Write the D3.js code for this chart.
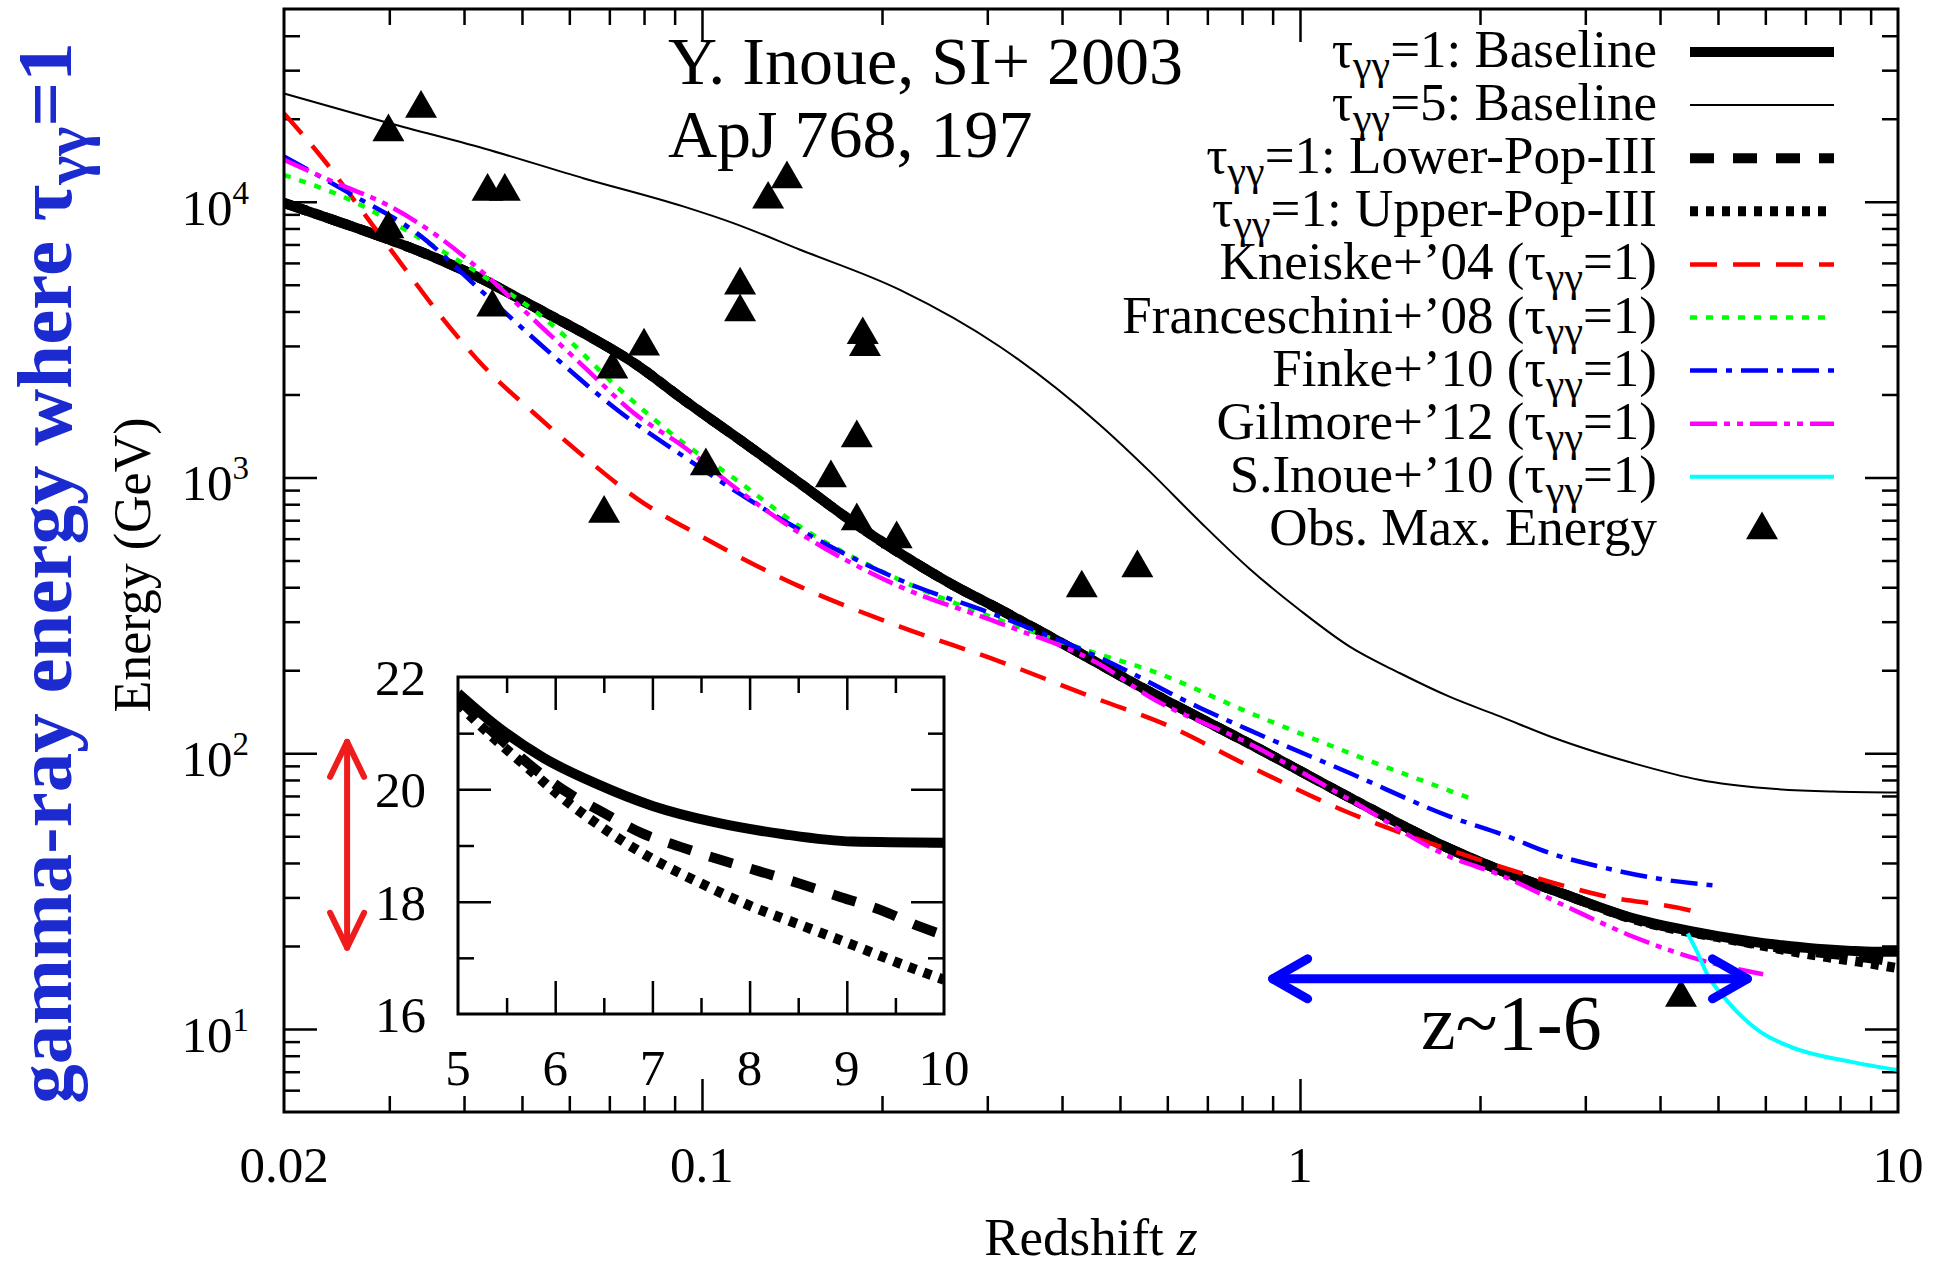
<!DOCTYPE html>
<html>
<head>
<meta charset="utf-8">
<script src="https://cdn.jsdelivr.net/npm/d3@7"></script>
<style>
  body { margin: 0; background: #fff; }
  svg { display: block; font-family: "Liberation Serif", "Times New Roman", serif; }
</style>
</head>
<body>
<div id="root"></div>
<script>
// ---- data: [redshift z, energy GeV] ----
const baseline1 = [[0.02, 9900], [0.0242, 8590], [0.0294, 7400], [0.0356, 6300], [0.0432, 5200],
  [0.0524, 4160], [0.0635, 3330], [0.077, 2600], [0.0933, 1910], [0.1203, 1290], [0.1459, 952],
  [0.1768, 701], [0.2143, 531], [0.26, 413], [0.315, 332], [0.382, 265], [0.463, 210], [0.561, 167],
  [0.681, 134], [0.825, 108], [1.213, 68.9], [1.782, 45], [2.16, 37.7], [2.79, 30.6], [3.61, 25.2],
  [4.67, 22.3], [5, 21.71], [5.38, 21.15], [5.88, 20.56], [6.41, 20.11], [7.01, 19.7], [7.65, 19.41],
  [8.35, 19.2], [9.06, 19.07], [10, 19.05]];

const baseline5 = [[0.02, 24700], [0.0294, 19500], [0.0432, 15600], [0.0635, 12150], [0.0933, 9600],
  [0.1131, 8350], [0.1459, 6700], [0.2143, 4790], [0.315, 2980], [0.463, 1550], [0.561, 1050],
  [0.681, 690], [0.825, 465], [1.0, 330], [1.213, 243], [1.47, 195], [1.782, 160], [2.16, 136],
  [2.62, 115], [3.17, 100], [3.61, 92], [4.67, 80], [6.03, 74.6], [7.8, 72.6], [10, 72]];

const popLower = [[0.02, 9900], [0.0242, 8590], [0.0294, 7400], [0.0356, 6300], [0.0432, 5200],
  [0.0524, 4160], [0.0635, 3330], [0.077, 2600], [0.0933, 1910], [0.1203, 1290], [0.1459, 952],
  [0.1768, 701], [0.2143, 531], [0.26, 413], [0.315, 332], [0.382, 265], [0.463, 210], [0.561, 167],
  [0.681, 134], [0.825, 108], [1.213, 68.9], [1.782, 45], [2.16, 37.7], [2.79, 30.6], [3.61, 25.1],
  [4.67, 22.2], [5, 21.62], [6.11, 19.96], [6.5, 19.58], [6.89, 19.22], [7.28, 18.98], [7.69, 18.75],
  [8.1, 18.54], [8.52, 18.32], [8.94, 18.08], [9.35, 17.85], [9.76, 17.55], [10, 17.4]];

const popUpper = [[0.02, 9900], [0.0242, 8590], [0.0294, 7400], [0.0356, 6300], [0.0432, 5200],
  [0.0524, 4160], [0.0635, 3330], [0.077, 2600], [0.0933, 1910], [0.1203, 1290], [0.1459, 952],
  [0.1768, 701], [0.2143, 531], [0.26, 413], [0.315, 332], [0.382, 265], [0.463, 210], [0.561, 167],
  [0.681, 134], [0.825, 108], [1.213, 68.9], [1.782, 45], [2.16, 37.7], [2.79, 30.6], [3.61, 25.0],
  [4.67, 22.1], [5, 21.53], [5.35, 20.94], [5.7, 20.41], [6.05, 19.88], [6.41, 19.41], [6.94, 18.82],
  [7.47, 18.35], [8.0, 17.93], [8.53, 17.58], [9.06, 17.23], [9.59, 16.87], [10, 16.61]];

const kneiske = [[0.02, 20900], [0.0233, 14200], [0.0272, 9080], [0.0317, 5800], [0.037, 3730],
  [0.0432, 2520], [0.0524, 1710], [0.0635, 1190], [0.0784, 830], [0.0993, 615], [0.1459, 402],
  [0.2143, 288], [0.315, 215], [0.463, 156], [0.591, 128], [0.825, 89.4], [1.213, 60.6], [1.782, 44.6],
  [2.3, 37.2], [3.17, 30.6], [4.67, 26.3], [4.75, 26]];

const franceschini = [[0.02, 12500], [0.0258, 10150], [0.0334, 7470], [0.0432, 5350], [0.0558, 3620],
  [0.0721, 2130], [0.0933, 1330], [0.1131, 994], [0.1459, 663], [0.2143, 425], [0.315, 304],
  [0.463, 228], [0.561, 200], [0.825, 140], [1.213, 100], [1.96, 67.7]];

const finke = [[0.02, 14600], [0.0258, 10700], [0.0334, 7680], [0.0432, 4650], [0.0558, 2820],
  [0.0721, 1760], [0.0933, 1190], [0.1131, 900], [0.1459, 645], [0.2143, 425], [0.315, 313],
  [0.463, 222], [0.681, 146], [0.825, 121], [1.213, 84.6], [1.782, 58.9], [2.22, 50], [2.62, 43.4],
  [3.17, 38.8], [4.1, 34.7], [4.98, 33.1]];

const gilmore = [[0.02, 14200], [0.0242, 11800], [0.0294, 9870], [0.0356, 7680], [0.0432, 5500],
  [0.0524, 3725], [0.0635, 2520], [0.077, 1710], [0.0933, 1290], [0.1131, 926], [0.1459, 627],
  [0.2143, 402], [0.315, 296], [0.463, 210], [0.561, 160], [0.825, 108], [1.213, 67.7], [1.782, 42.1],
  [2.16, 36.2], [2.79, 27.8], [3.61, 21.6], [4.67, 17.8], [5.95, 15.8]];

const sInoue = [[4.45, 22.2], [4.6, 19.3], [4.79, 15.9], [5.17, 12.7], [5.87, 9.8], [6.6, 8.63],
  [8.35, 7.6], [10, 7.1]];

const obsMax = [[0.0299, 17900], [0.0339, 21800], [0.0299, 7960], [0.0438, 10900], [0.0468, 10900],
  [0.0446, 4140], [0.0708, 2470], [0.080, 2990], [0.0686, 740], [0.1015, 1100], [0.1158, 4980],
  [0.1158, 3980], [0.129, 10200], [0.1387, 12100], [0.1857, 3290], [0.1873, 2980], [0.1815, 1390],
  [0.1643, 996], [0.1815, 695], [0.2116, 598], [0.4316, 397], [0.5346, 470], [4.336, 13]];

const legendLabels = [
  ["", "=1: Baseline"], ["", "=5: Baseline"], ["", "=1: Lower-Pop-III"], ["", "=1: Upper-Pop-III"],
  ["Kneiske+’04 (", "=1)"], ["Franceschini+’08 (", "=1)"], ["Finke+’10 (", "=1)"],
  ["Gilmore+’12 (", "=1)"], ["S.Inoue+’10 (", "=1)"], ["Obs. Max. Energy", null]];

const xTickValues = [0.02, 0.1, 1, 10];
const xTickLabels = ["0.02", "0.1", "1", "10"];
const yTickValues = [10, 100, 1000, 10000];
const yTickExponents = ["1", "2", "3", "4"];
const insetXTicks = [5, 6, 7, 8, 9, 10];
const insetYTicks = [16, 18, 20, 22];

// arrows (data coordinates)
const zRangeArrow = [[0.9, 15.2], [5.6, 15.2]];
const insetArrow = [[0.0255, 110], [0.0255, 19.7]];

// ---- styles ----
const styles = [
  { stroke: "#000", width: 10, dash: null },
  { stroke: "#000", width: 2, dash: null },
  { stroke: "#000", width: 10, dash: "24,19" },
  { stroke: "#000", width: 10, dash: "8,8" },
  { stroke: "#ff0000", width: 4.5, dash: "27,16" },
  { stroke: "#00ff00", width: 4.5, dash: "7,9" },
  { stroke: "#0000ff", width: 4.5, dash: "27,9,6,9" },
  { stroke: "#ff00ff", width: 4.5, dash: "27,7,6,7,6,7" },
  { stroke: "#00ffff", width: 4, dash: null }
];
const seriesData = [baseline1, baseline5, popLower, popUpper, kneiske, franceschini, finke, gilmore, sInoue];

const W = 1953, H = 1267;
const plot = { left: 284, right: 1898, top: 9, bottom: 1112 };

const svg = d3.select("#root").append("svg").attr("width", W).attr("height", H);
svg.append("rect").attr("width", W).attr("height", H).attr("fill", "#fff");

const x = d3.scaleLog().domain([0.02, 10]).range([plot.left, plot.right]);
const y = d3.scaleLog().domain([5, 5e4]).range([plot.bottom, plot.top]);

const defs = svg.append("defs");
defs.append("clipPath").attr("id", "clip-main").append("rect")
  .attr("x", plot.left).attr("y", plot.top)
  .attr("width", plot.right - plot.left).attr("height", plot.bottom - plot.top);

const isDecade = v => Math.abs(Math.log10(v) - Math.round(Math.log10(v))) < 1e-9;

// ticks, inward, on all four sides
function tickSet(g, axisFn, scale, values, size, pos, horiz) {
  g.append("g")
    .attr("transform", horiz ? `translate(0,${pos})` : `translate(${pos},0)`)
    .attr("stroke-width", 2.5)
    .call(axisFn(scale).tickValues(values).tickSize(-size).tickFormat("").tickSizeOuter(0))
    .call(s => s.select(".domain").remove());
}

const axes = svg.append("g");
const xMinor = x.ticks().filter(v => !isDecade(v) && v > 0.02);
const xMajor = x.ticks().filter(v => isDecade(v) && v > 0.02 && v < 10);
const yMinor = y.ticks().filter(v => !isDecade(v) && v > 5 && v < 5e4);
const yMajor = y.ticks().filter(v => isDecade(v));

tickSet(axes, d3.axisBottom, x, xMinor, 16, plot.bottom, true);
tickSet(axes, d3.axisBottom, x, xMajor, 33, plot.bottom, true);
tickSet(axes, d3.axisTop, x, xMinor, 16, plot.top, true);
tickSet(axes, d3.axisTop, x, xMajor, 33, plot.top, true);
tickSet(axes, d3.axisLeft, y, yMinor, 16, plot.left, false);
tickSet(axes, d3.axisLeft, y, yMajor, 33, plot.left, false);
tickSet(axes, d3.axisRight, y, yMinor, 16, plot.right, false);
tickSet(axes, d3.axisRight, y, yMajor, 33, plot.right, false);

// tick labels
axes.selectAll(".xl").data(xTickValues).join("text")
  .attr("x", d => x(d)).attr("y", 1182)
  .attr("text-anchor", "middle").attr("font-size", 51)
  .text((d, i) => xTickLabels[i]);

yTickValues.forEach((v, i) => {
  const t = axes.append("text").attr("x", 249).attr("y", y(v) + 23)
    .attr("text-anchor", "end").attr("font-size", 51);
  t.append("tspan").text("10");
  t.append("tspan").attr("dy", -21).attr("font-size", 33).text(yTickExponents[i]);
});

// curves
const line = d3.line().x(d => x(d[0])).y(d => y(d[1])).curve(d3.curveMonotoneX);
const curves = svg.append("g").attr("clip-path", "url(#clip-main)");
seriesData.forEach((data, i) => {
  const s = styles[i];
  curves.append("path").datum(data)
    .attr("d", line)
    .attr("fill", "none")
    .attr("stroke", s.stroke)
    .attr("stroke-width", s.width)
    .attr("stroke-dasharray", s.dash);
});

// observed max energies
const tri = d3.symbol(d3.symbolTriangle, 443);
curves.selectAll(".obs").data(obsMax).join("path")
  .attr("transform", d => `translate(${x(d[0])},${y(d[1])})`)
  .attr("d", tri).attr("fill", "#000");

// frame
svg.append("rect")
  .attr("x", plot.left).attr("y", plot.top)
  .attr("width", plot.right - plot.left).attr("height", plot.bottom - plot.top)
  .attr("fill", "none").attr("stroke", "#000").attr("stroke-width", 3);

// axis titles
svg.append("text").attr("x", (plot.left + plot.right) / 2).attr("y", 1255)
  .attr("text-anchor", "middle").attr("font-size", 53)
  .call(t => { t.append("tspan").text("Redshift "); t.append("tspan").attr("font-style", "italic").text("z"); });

svg.append("text").attr("transform", "translate(150,565) rotate(-90)")
  .attr("text-anchor", "middle").attr("font-size", 52).text("Energy (GeV)");

function tauLabel(t, pre, post, subSize, subDy) {
  if (pre) t.append("tspan").text(pre);
  t.append("tspan").text("τ");
  t.append("tspan").attr("font-size", subSize).attr("dy", subDy).text("γγ");
  t.append("tspan").attr("dy", -subDy).text(post);
}

const blueLabel = svg.append("text").attr("transform", "translate(71,573) rotate(-90)")
  .attr("text-anchor", "middle").attr("font-size", 79).attr("font-weight", "bold")
  .attr("fill", "#1b2bd0");
tauLabel(blueLabel, "gamma-ray energy where ", "=1", 62, 16);

// annotations
svg.append("text").attr("x", 668).attr("y", 84).attr("font-size", 68).text("Y. Inoue, SI+ 2003");
svg.append("text").attr("x", 668).attr("y", 157).attr("font-size", 68).text("ApJ 768, 197");
svg.append("text").attr("x", 1421).attr("y", 1049).attr("font-size", 78).text("z~1-6");

// double arrows with open heads
function doubleArrow(pts, color, w, len, half) {
  const p0 = [x(pts[0][0]), y(pts[0][1])], p1 = [x(pts[1][0]), y(pts[1][1])];
  const g = svg.append("g").attr("stroke", color).attr("stroke-width", w)
    .attr("fill", "none").attr("stroke-linecap", "round").attr("stroke-linejoin", "round");
  g.append("line").attr("x1", p0[0]).attr("y1", p0[1]).attr("x2", p1[0]).attr("y2", p1[1]);
  const dx = p1[0] - p0[0], dy = p1[1] - p0[1], L = Math.hypot(dx, dy);
  const ux = dx / L, uy = dy / L, nx = -uy, ny = ux;
  [[p0, 1], [p1, -1]].forEach(([p, sgn]) => {
    const bx = p[0] + sgn * ux * len, by = p[1] + sgn * uy * len;
    g.append("path").attr("d",
      `M${bx + nx * half},${by + ny * half}L${p[0]},${p[1]}L${bx - nx * half},${by - ny * half}`);
  });
}
doubleArrow(zRangeArrow, "#0000ff", 9, 35, 20);
doubleArrow(insetArrow, "#ee1c1c", 6, 35, 17);

// legend
const legend = svg.append("g").attr("font-size", 53);
const rowY = i => 52 + i * 53.1;
legendLabels.forEach((lab, i) => {
  const t = legend.append("text").attr("x", 1657).attr("y", rowY(i) + 15).attr("text-anchor", "end");
  if (lab[1] === null) t.text(lab[0]);
  else tauLabel(t, lab[0], lab[1], 42, 12);
  if (i < styles.length) {
    const s = styles[i];
    legend.append("line").attr("x1", 1690).attr("x2", 1834).attr("y1", rowY(i)).attr("y2", rowY(i))
      .attr("stroke", s.stroke).attr("stroke-width", s.width).attr("stroke-dasharray", s.dash);
  } else {
    legend.append("path").attr("transform", `translate(1762,${rowY(i)})`).attr("d", tri).attr("fill", "#000");
  }
});

// ---- inset: z = 5..10 ----
const inset = { left: 458, right: 944, top: 677, bottom: 1014 };
const ix = d3.scaleLinear().domain([5, 10]).range([inset.left, inset.right]);
const iy = d3.scaleLinear().domain([16, 22]).range([inset.bottom, inset.top]);
defs.append("clipPath").attr("id", "clip-inset").append("rect")
  .attr("x", inset.left).attr("y", inset.top)
  .attr("width", inset.right - inset.left).attr("height", inset.bottom - inset.top);

const ig = svg.append("g");
ig.append("rect").attr("x", inset.left).attr("y", inset.top)
  .attr("width", inset.right - inset.left).attr("height", inset.bottom - inset.top).attr("fill", "#fff");

const iMinorX = [5.5, 6.5, 7.5, 8.5, 9.5], iMajorX = [6, 7, 8, 9];
const iMinorY = [17, 19, 21], iMajorY = [18, 20];
tickSet(ig, d3.axisBottom, ix, iMinorX, 16, inset.bottom, true);
tickSet(ig, d3.axisBottom, ix, iMajorX, 33, inset.bottom, true);
tickSet(ig, d3.axisTop, ix, iMinorX, 16, inset.top, true);
tickSet(ig, d3.axisTop, ix, iMajorX, 33, inset.top, true);
tickSet(ig, d3.axisLeft, iy, iMinorY, 16, inset.left, false);
tickSet(ig, d3.axisLeft, iy, iMajorY, 33, inset.left, false);
tickSet(ig, d3.axisRight, iy, iMinorY, 16, inset.right, false);
tickSet(ig, d3.axisRight, iy, iMajorY, 33, inset.right, false);

const iline = d3.line().x(d => ix(d[0])).y(d => iy(d[1])).curve(d3.curveMonotoneX);
const ic = ig.append("g").attr("clip-path", "url(#clip-inset)");
[baseline1, popLower, popUpper].forEach((data, k) => {
  const s = styles[[0, 2, 3][k]];
  ic.append("path").datum(data.filter(d => d[0] >= 5))
    .attr("d", iline).attr("fill", "none")
    .attr("stroke", s.stroke).attr("stroke-width", s.width).attr("stroke-dasharray", s.dash);
});

ig.append("rect").attr("x", inset.left).attr("y", inset.top)
  .attr("width", inset.right - inset.left).attr("height", inset.bottom - inset.top)
  .attr("fill", "none").attr("stroke", "#000").attr("stroke-width", 3);

ig.selectAll(".ixl").data(insetXTicks).join("text")
  .attr("x", d => ix(d)).attr("y", 1085).attr("text-anchor", "middle").attr("font-size", 51)
  .text(d => d);
ig.selectAll(".iyl").data(insetYTicks).join("text")
  .attr("x", 426).attr("y", d => iy(d) + 18).attr("text-anchor", "end").attr("font-size", 51)
  .text(d => d);
</script>
</body>
</html>
